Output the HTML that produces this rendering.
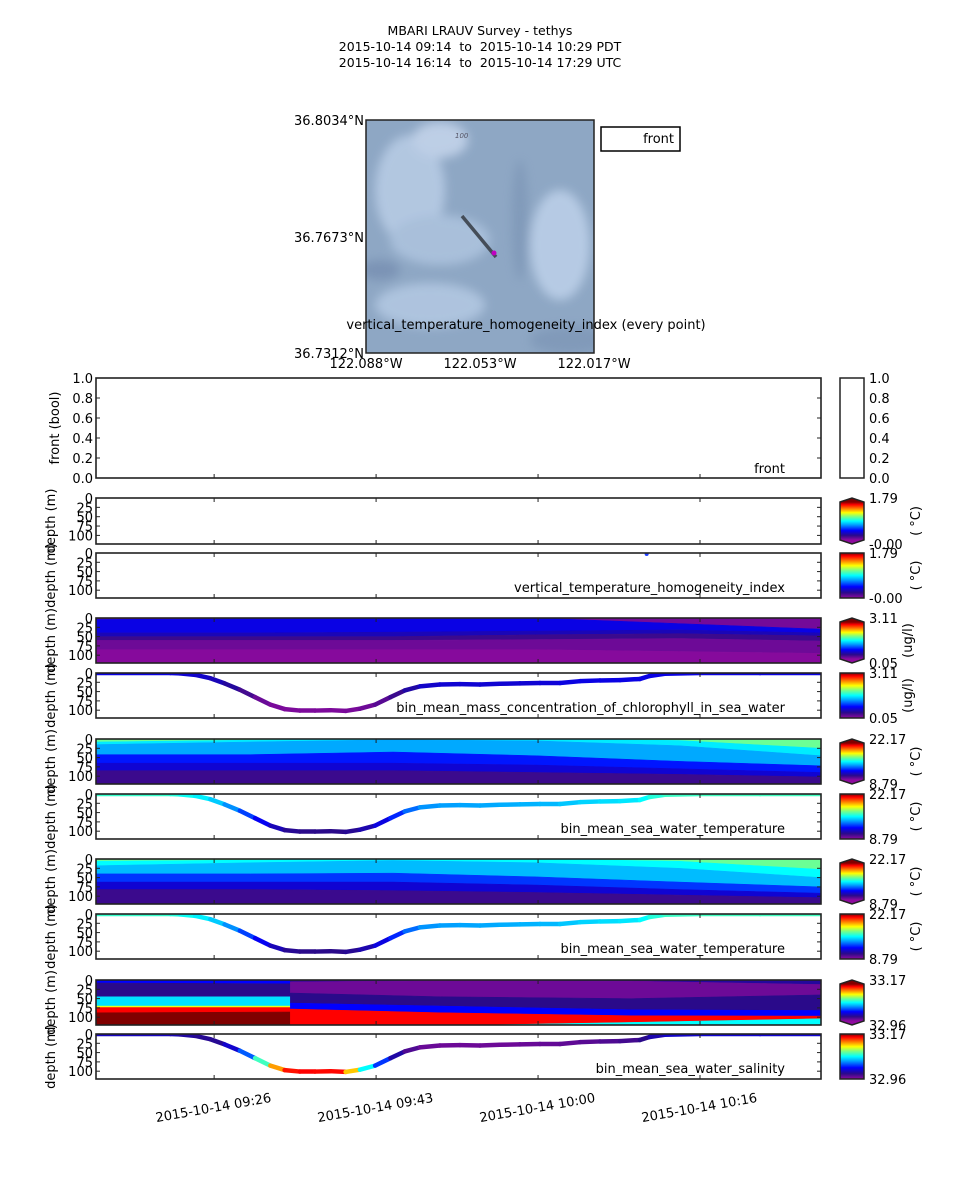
<!DOCTYPE html>
<html><head><meta charset="utf-8">
<style>
html,body{margin:0;padding:0;background:#fff;}
body{width:960px;height:1200px;overflow:hidden;font-family:"DejaVu Sans","Liberation Sans",sans-serif;}
svg text{font-family:"DejaVu Sans","Liberation Sans",sans-serif;}
</style></head>
<body>
<svg id="fig" width="960" height="1200" viewBox="0 0 960 1200" xmlns="http://www.w3.org/2000/svg">
<defs>
  <linearGradient id="cmap" x1="0" y1="1" x2="0" y2="0">
    <stop offset="0" stop-color="#8e0a9e"/><stop offset="0.12" stop-color="#2a0a8a"/>
    <stop offset="0.25" stop-color="#0000ff"/><stop offset="0.4" stop-color="#00a0ff"/>
    <stop offset="0.5" stop-color="#00ffff"/><stop offset="0.62" stop-color="#80ff80"/>
    <stop offset="0.72" stop-color="#ffff00"/><stop offset="0.85" stop-color="#ff6000"/>
    <stop offset="0.93" stop-color="#ff0000"/><stop offset="1" stop-color="#800000"/>
  </linearGradient>
  <filter id="blur"><feGaussianBlur stdDeviation="5"/></filter>
  <clipPath id="mapclip"><rect x="366" y="120" width="228" height="233"/></clipPath>
</defs>
<g font-size="12.5" text-anchor="middle" fill="#000">
  <text x="480" y="35" xml:space="preserve">MBARI LRAUV Survey - tethys</text>
  <text x="480" y="51" xml:space="preserve">2015-10-14 09:14  to  2015-10-14 10:29 PDT</text>
  <text x="480" y="67" xml:space="preserve">2015-10-14 16:14  to  2015-10-14 17:29 UTC</text>
</g>
<g id="map">
  <g clip-path="url(#mapclip)">
    <rect x="366" y="120" width="228" height="233" fill="#8ea7c4"/>
    <g filter="url(#blur)" opacity="0.85">
      <ellipse cx="410" cy="190" rx="35" ry="55" fill="#b9cde6"/>
      <ellipse cx="440" cy="240" rx="50" ry="25" fill="#aec4df"/>
      <ellipse cx="430" cy="305" rx="55" ry="22" fill="#b4c9e3"/>
      <ellipse cx="560" cy="245" rx="30" ry="55" fill="#bed1ea"/>
      <ellipse cx="440" cy="140" rx="28" ry="18" fill="#c6d6ec"/>
      <ellipse cx="520" cy="220" rx="8" ry="60" fill="#7f98b8"/>
      <ellipse cx="380" cy="270" rx="20" ry="10" fill="#7890b2"/>
      <ellipse cx="570" cy="340" rx="40" ry="14" fill="#7f98b8"/>
    </g>
    <text x="455" y="138" font-size="7" font-style="italic" fill="#556">100</text>
    <line x1="462" y1="216" x2="496" y2="257" stroke="#454d58" stroke-width="3.5"/>
    <circle cx="494" cy="253" r="2.5" fill="#c000c0"/>
  </g>
  <rect x="366" y="120" width="228" height="233" fill="none" stroke="#222" stroke-width="1.5"/>
  <g font-size="13" fill="#000">
    <text x="364" y="125" text-anchor="end">36.8034°N</text>
    <text x="364" y="242" text-anchor="end">36.7673°N</text>
    <text x="364" y="358" text-anchor="end">36.7312°N</text>
    <text x="366" y="368" text-anchor="middle">122.088°W</text>
    <text x="480" y="368" text-anchor="middle">122.053°W</text>
    <text x="594" y="368" text-anchor="middle">122.017°W</text>
    <text x="526" y="329" text-anchor="middle">vertical_temperature_homogeneity_index (every point)</text>
  </g>
  <g>
    <rect x="601" y="127" width="79" height="24" fill="#fff" stroke="#000" stroke-width="1.5"/>
    <text x="674" y="143" font-size="13" text-anchor="end">front</text>
  </g>
</g>
<g id="panels"></g>
</svg>
<script>
// ---- data ----
var trackTimes = [13.8,21.6,22.6,24.2,25.8,27.3,28.9,30.5,32.1,33.6,35.2,36.8,38.4,40.0,41.5,43.1,44.7,46.2,47.8,49.9,52.0,54.1,56.2,58.3,60.4,62.5,64.6,66.7,68.8,70.9,71.9,73.5,77.2,83.5,89.9];
var trackDepths = [0,0,1,5,14,28,45,65,85,97,101,101,100,102,96,85,65,47,36,31,30,31,29,28,27,27,22,20,19,16,8,2,0,0,0];
var chlValues  = [0.22,0.22,0.2,0.2,0.18,0.16,0.12,0.06,0.03,0.02,0.02,0.02,0.02,0.02,0.03,0.05,0.08,0.12,0.18,0.2,0.2,0.2,0.2,0.2,0.2,0.21,0.22,0.22,0.22,0.22,0.22,0.22,0.22,0.22,0.22];
var tempValues = [0.55,0.55,0.52,0.5,0.47,0.42,0.35,0.27,0.2,0.14,0.12,0.12,0.12,0.12,0.14,0.18,0.25,0.32,0.38,0.4,0.4,0.41,0.41,0.42,0.42,0.43,0.45,0.46,0.47,0.48,0.52,0.55,0.56,0.56,0.56];
var salValues  = [0.18,0.18,0.15,0.14,0.12,0.14,0.25,0.42,0.7,0.9,0.93,0.93,0.92,0.93,0.6,0.4,0.2,0.1,0.05,0.04,0.04,0.04,0.04,0.04,0.05,0.05,0.06,0.07,0.08,0.1,0.14,0.18,0.2,0.2,0.2];
var xTickValues = [26.2,43.2,60.2,77.2];
var xTickLabels = ["2015-10-14 09:26","2015-10-14 09:43","2015-10-14 10:00","2015-10-14 10:16"];
var depthTicks = [0,25,50,75,100];
var frontTicks = [0,0.2,0.4,0.6,0.8,1.0];
var vthiTimes = [71.6];
var vthiDepths = [0];
// contour layers: column times and bottom boundaries (m) of each layer with colour value
var chlCols = [13.8,30,45,60,75,89.9];
var chlLayers = [
 {v:0.03,b:[4,2,0,0,15,30]},
 {v:0.22,b:[40,40,38,35,32,40]},
 {v:0.17,b:[50,50,50,45,42,48]},
 {v:0.1,b:[60,60,60,58,55,62]},
 {v:0.04,b:[85,85,85,85,90,95]},
 {v:0.01,b:[123,123,123,123,123,123]}];
var tempCols = [13.8,30,45,60,75,89.9];
var tempLayers = [
 {v:0.6,b:[8,3,0,0,4,25]},
 {v:0.48,b:[15,8,2,5,18,45]},
 {v:0.41,b:[42,42,35,45,60,72]},
 {v:0.27,b:[65,65,65,70,80,90]},
 {v:0.2,b:[85,85,85,90,95,102]},
 {v:0.1,b:[123,123,123,123,123,123]}];
var temp2Layers = [
 {v:0.6,b:[6,3,0,0,6,28]},
 {v:0.5,b:[18,10,4,10,25,50]},
 {v:0.43,b:[40,40,38,48,62,75]},
 {v:0.3,b:[62,62,62,70,82,92]},
 {v:0.2,b:[82,82,85,90,97,104]},
 {v:0.1,b:[123,123,123,123,123,123]}];
var salLeftCols = [13.8,34.2];
var salLeftLayers = [
 {v:0.25,b:[8,10]},{v:0.12,b:[45,45]},{v:0.47,b:[70,70]},{v:0.7,b:[74,74]},{v:0.93,b:[88,86]},{v:1.0,b:[123,123]}];
var salRightCols = [34.2,50,70,89.9];
var salRightLayers = [
 {v:0.14,b:[5,2,3,12]},{v:0.04,b:[35,45,50,40]},{v:0.12,b:[62,70,80,82]},{v:0.25,b:[78,88,96,97]},
 {v:0.93,b:[123,123,114,104]},{v:0.5,b:[123,123,123,123]}];

// ---- helpers ----
var NS="http://www.w3.org/2000/svg";
var root=document.getElementById('panels');
var X0=96,X1=821,T0=13.8,T1=89.9;
function xs(t){return X0+(t-T0)/(T1-T0)*(X1-X0);}
var cstops=[[0,[142,10,158]],[0.12,[42,10,138]],[0.25,[0,0,255]],[0.4,[0,160,255]],[0.5,[0,255,255]],[0.62,[128,255,128]],[0.72,[255,255,0]],[0.85,[255,96,0]],[0.93,[255,0,0]],[1,[128,0,0]]];
function cmap(v){v=Math.max(0,Math.min(1,v));for(var i=1;i<cstops.length;i++){if(v<=cstops[i][0]){var a=cstops[i-1],b=cstops[i],f=(v-a[0])/(b[0]-a[0]);var c=a[1].map(function(x,k){return Math.round(x+(b[1][k]-x)*f);});return 'rgb('+c.join(',')+')';}}return 'rgb(128,0,0)';}
function mk(tag,attrs,parent){var e=document.createElementNS(NS,tag);for(var k in attrs)e.setAttribute(k,attrs[k]);(parent||root).appendChild(e);return e;}
function txt(s,attrs,parent){var e=mk('text',attrs,parent);e.textContent=s;return e;}

function frame(top,bot,name){
  var g=mk('g',{});
  
  
  return g;
}
function border(g,top,bot){var r=mk('rect',{x:X0,y:top,width:X1-X0,height:bot-top,fill:'none',stroke:'#222','stroke-width':1.6},g);}
function depthAxis(g,top,bot,dmax,label){
  var ys=function(d){return top+d/dmax*(bot-top);};
  depthTicks.forEach(function(d){
    var y=ys(d);
    var l=mk('line',{x1:X0,x2:X0+4,y1:y,y2:y,stroke:'#222'},g);
    
    mk('line',{x1:X1-4,x2:X1,y1:y,y2:y,stroke:'#222'},g);
    var t=txt(String(d),{x:X0-3,y:y+5,'font-size':13,'text-anchor':'end'},g);
    
  });
  xTickValues.forEach(function(tv){var x=xs(tv);mk('line',{x1:x,x2:x,y1:bot,y2:bot-4,stroke:'#222'},g);mk('line',{x1:x,x2:x,y1:top,y2:top+4,stroke:'#222'},g);});
  var yl=txt(label,{x:0,y:0,'font-size':13,'text-anchor':'middle',transform:'translate(55,'+((top+bot)/2)+') rotate(-90)'},g);
  
  return ys;
}
function colorbar(top,bot,maxL,minL,unit,ext,ux){
  var g=mk('g',{});
  
  
  var x=840,w=24,e=ext?4:0;
  mk('rect',{x:x,y:top+e,width:w,height:bot-top-2*e,fill:'url(#cmap)'},g);
  if(ext){
    mk('polygon',{points:x+','+(top+e)+' '+(x+w/2)+','+(top)+' '+(x+w)+','+(top+e),fill:'#800000'},g);
    mk('polygon',{points:x+','+(bot-e)+' '+(x+w/2)+','+(bot)+' '+(x+w)+','+(bot-e),fill:'#8e0a9e'},g);
    mk('polygon',{points:x+','+(top+e)+' '+(x+w/2)+','+top+' '+(x+w)+','+(top+e)+' '+(x+w)+','+(bot-e)+' '+(x+w/2)+','+bot+' '+x+','+(bot-e),fill:'none',stroke:'#222','stroke-width':1.5},g);
  } else mk('rect',{x:x,y:top,width:w,height:bot-top,fill:'none',stroke:'#222','stroke-width':1.5},g);
  txt(maxL,{x:869,y:top+5,'font-size':13},g);
  txt(minL,{x:869,y:bot+5,'font-size':13},g);
  var u=txt(unit,{x:0,y:0,'font-size':13,'text-anchor':'middle',transform:'translate('+ux+','+((top+bot)/2)+') rotate(-90)'},g);
  
}
function contour(g,ys,cols,layers){
  var prev=cols.map(function(){return 0;});
  layers.forEach(function(L){
    var pts=[];
    cols.forEach(function(c,i){pts.push(xs(c)+','+ys(prev[i]));});
    for(var i=cols.length-1;i>=0;i--)pts.push(xs(cols[i])+','+ys(L.b[i]));
    var p=mk('polygon',{points:pts.join(' '),fill:cmap(L.v),stroke:cmap(L.v),'stroke-width':0.5},g);
    
    
    prev=L.b;
  });
}
function track(g,ys,vals){
  for(var i=0;i<trackTimes.length-1;i++){
    var s=mk('line',{x1:xs(trackTimes[i]),y1:ys(trackDepths[i]),x2:xs(trackTimes[i+1]),y2:ys(trackDepths[i+1]),stroke:cmap((vals[i]+vals[i+1])/2),'stroke-width':4.5,'stroke-linecap':'round'},g);
    
    
  }
}

// front panel
(function(){
  var top=378,bot=478,g=frame(top,bot,'front-panel');
  frontTicks.forEach(function(v){var y=bot-v*(bot-top);
    mk('line',{x1:X0,x2:X0+4,y1:y,y2:y,stroke:'#222'},g);mk('line',{x1:X1-4,x2:X1,y1:y,y2:y,stroke:'#222'},g);
    var t=txt(v.toFixed(1),{x:X0-3,y:y+5,'font-size':13,'text-anchor':'end'},g);
    
    mk('line',{x1:860,x2:864,y1:y,y2:y,stroke:'#222'},g);
    txt(v.toFixed(1),{x:869,y:y+5,'font-size':13},g);
  });
  xTickValues.forEach(function(tv){var x=xs(tv);mk('line',{x1:x,x2:x,y1:bot,y2:bot-4,stroke:'#222'},g);});
  border(g,top,bot);
  mk('rect',{x:840,y:top,width:24,height:100,fill:'#fff',stroke:'#222','stroke-width':1.5},g);
  txt('front (bool)',{x:0,y:0,'font-size':13,'text-anchor':'middle',transform:'translate(59,428) rotate(-90)'},g);
  txt('front',{x:785,y:473,'font-size':13,'text-anchor':'end'},g);
})();

// panel definitions
var P=[
 {top:498,bot:544,dmax:123,kind:'empty',cb:['1.79','-0.00','( °C)',true,920],name:'vthi-contour-panel'},
 {top:553,bot:598,dmax:121,kind:'vthi',label:'vertical_temperature_homogeneity_index',cb:['1.79','-0.00','( °C)',false,920],name:'vthi-scatter-panel'},
 {top:618,bot:663,dmax:121,kind:'c',cols:chlCols,layers:chlLayers,cb:['3.11','0.05','(ug/l)',true,912],name:'chl-contour-panel'},
 {top:673,bot:718,dmax:121,kind:'l',vals:chlValues,label:'bin_mean_mass_concentration_of_chlorophyll_in_sea_water',cb:['3.11','0.05','(ug/l)',false,912],name:'chl-track-panel'},
 {top:739,bot:784,dmax:121,kind:'c',cols:tempCols,layers:tempLayers,cb:['22.17','8.79','( °C)',true,920],name:'temp-contour-panel'},
 {top:794,bot:839,dmax:121,kind:'l',vals:tempValues,label:'bin_mean_sea_water_temperature',cb:['22.17','8.79','( °C)',false,920],name:'temp-track-panel'},
 {top:859,bot:904,dmax:121,kind:'c',cols:tempCols,layers:temp2Layers,cb:['22.17','8.79','( °C)',true,920],name:'temp-contour-panel-2'},
 {top:914,bot:959,dmax:121,kind:'l',vals:tempValues,label:'bin_mean_sea_water_temperature',cb:['22.17','8.79','( °C)',false,920],name:'temp-track-panel-2'},
 {top:980,bot:1025,dmax:121,kind:'s',cb:['33.17','32.96','',true,920],name:'salinity-contour-panel'},
 {top:1034,bot:1079,dmax:121,kind:'l',vals:salValues,label:'bin_mean_sea_water_salinity',cb:['33.17','32.96','',false,920],name:'salinity-track-panel'}
];
P.forEach(function(p){
  var g=frame(p.top,p.bot,p.name);
  var ys=function(d){return p.top+d/p.dmax*(p.bot-p.top);};
  var clipId='c'+p.top;
  var cp=mk('clipPath',{id:clipId},g);mk('rect',{x:X0,y:p.top,width:X1-X0,height:p.bot-p.top},cp);
  var inner=mk('g',{'clip-path':'url(#'+clipId+')'},g);
  if(p.kind==='c')contour(inner,ys,p.cols,p.layers);
  if(p.kind==='s'){contour(inner,ys,salLeftCols,salLeftLayers);contour(inner,ys,salRightCols,salRightLayers);}
  if(p.kind==='l')track(inner,ys,p.vals);
  if(p.kind==='vthi'){vthiTimes.forEach(function(t,i){var c=mk('circle',{cx:xs(t),cy:ys(vthiDepths[i])+1,r:2,fill:'#2040ff'},inner);});}
  depthAxis(g,p.top,p.bot,p.dmax,'depth (m)');
  border(g,p.top,p.bot);
  if(p.label){var t=txt(p.label,{x:785,y:p.bot-6,'font-size':13,'text-anchor':'end'},g);}
  colorbar(p.top,p.bot,p.cb[0],p.cb[1],p.cb[2],p.cb[3],p.cb[4]);
});

// x tick labels
xTickValues.forEach(function(tv,i){
  var x=xs(tv);
  var t=txt(xTickLabels[i],{x:0,y:0,'font-size':13,'text-anchor':'middle',transform:'translate('+x+',1112) rotate(-10)'});
  
  
});
</script>
</body></html>
